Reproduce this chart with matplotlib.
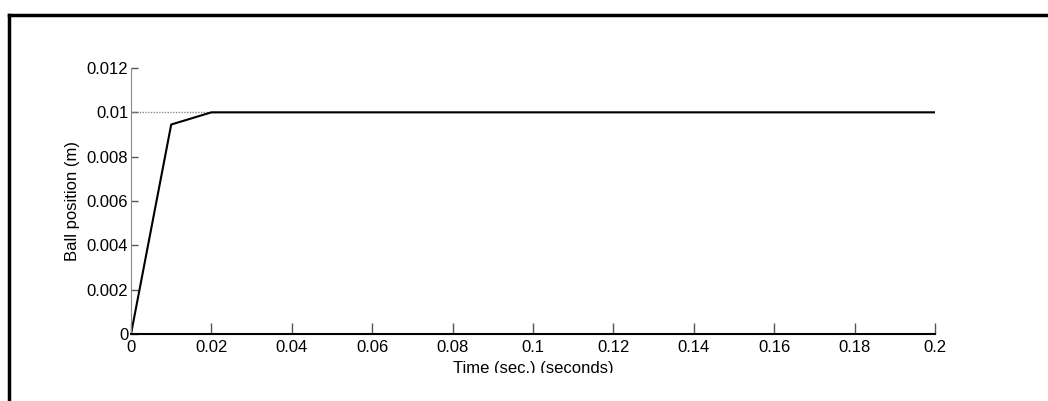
import matplotlib
matplotlib.use("Agg")
from matplotlib import pyplot as plt
from matplotlib.transforms import Bbox
from matplotlib.lines import Line2D

plt.rcParams['font.family'] = ['Liberation Sans', 'DejaVu Sans']

# data
time_s = [0.0, 0.01, 0.02, 0.03, 0.04, 0.05, 0.06, 0.07, 0.08, 0.09, 0.10,
          0.11, 0.12, 0.13, 0.14, 0.15, 0.16, 0.17, 0.18, 0.19, 0.20]
ball_pos = [0.0, 0.00945] + [0.01] * 19
setpoint = 0.01
x_ticks = [0, 0.02, 0.04, 0.06, 0.08, 0.1, 0.12, 0.14, 0.16, 0.18, 0.2]
x_tick_labels = ['0', '0.02', '0.04', '0.06', '0.08', '0.1', '0.12', '0.14', '0.16', '0.18', '0.2']
y_ticks = [0, 0.002, 0.004, 0.006, 0.008, 0.01, 0.012]
y_tick_labels = ['0', '0.002', '0.004', '0.006', '0.008', '0.01', '0.012']

fs = 12

fig = plt.figure(figsize=(10.48, 4.01), dpi=100)
ax = fig.add_axes([131 / 1048, 1 - 334 / 401, (935 - 131) / 1048, (334 - 68) / 401])

# dotted reference line, then the response on top
ax.plot([0, 0.2], [setpoint, setpoint], color='#888888', lw=1, linestyle=(0, (1, 1)))
ax.plot(time_s, ball_pos, color='black', lw=1.5)

ax.set_xlim(0, 0.2)
ax.set_ylim(0, 0.012)
ax.set_xticks(x_ticks)
ax.set_xticklabels(x_tick_labels)
ax.set_yticks(y_ticks)
ax.set_yticklabels(y_tick_labels)
ax.tick_params(axis='x', direction='in', length=8, width=1, color='#555555', labelsize=fs, pad=4)
ax.tick_params(axis='y', direction='in', length=5, width=1, color='#555555', labelsize=fs, pad=2)
ax.spines['top'].set_visible(False)
ax.spines['right'].set_visible(False)
ax.spines['left'].set_color('#888888')
ax.spines['bottom'].set_color('black')
ax.spines['bottom'].set_linewidth(1.5)

ax.set_ylabel('Ball position (m)', fontsize=fs, labelpad=5)
xl = ax.set_xlabel('Time (sec.) (seconds)', fontsize=fs, labelpad=5)

# outer frame (top and left edges only visible)
fig.add_artist(Line2D([9 / 1048, 1.0], [1 - 15 / 401, 1 - 15 / 401], color='black', lw=2.5,
                      transform=fig.transFigure))
fig.add_artist(Line2D([9 / 1048, 9 / 1048], [0, 1 - 15 / 401], color='black', lw=2.5,
                      transform=fig.transFigure))

# the x label is cut off at the bottom in the reference
fig.canvas.draw()
xl.set_clip_box(Bbox.from_extents(0, 401 - 373, 1048, 401))
xl.set_clip_on(True)

fig.savefig('out.png', dpi=100)
